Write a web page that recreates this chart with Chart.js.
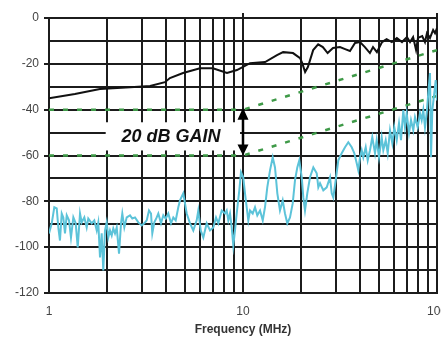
<!DOCTYPE html>
<html>
<head>
<meta charset="utf-8">
<script src="https://cdn.jsdelivr.net/npm/chart.js@4.4.1/dist/chart.umd.min.js"></script>
<style>
  html, body { margin: 0; padding: 0; background: #fff; }
  #wrap { width: 441px; height: 337px; }
</style>
</head>
<body>
<div id="wrap"><canvas id="chart"></canvas></div>
<script>
// limit lines (dB) at 1, 10, 100 MHz
const limitFreq = [1, 10, 100];
const limitUpper = [-40, -40, -14];
const limitLower = [-60, -60, -34];

// output trace (black)
const outFreq = [1, 1.36, 1.83, 2.62, 3.32, 3.96, 4.2, 4.91, 6.0, 7.0, 8.27, 9.31, 10.87, 13.0, 14.97, 16.1,
  18.1, 19.7, 20.2, 20.9, 21.6, 23.0, 24.4, 25.8, 27.3, 29.1, 31.6, 33.6, 35.6, 37.8, 40.1, 42.5, 45.1, 46.8,
  49.0, 52.1, 55.0, 58.5, 62.1, 66.0, 70.0, 72.6, 75.3, 78.0, 79.8, 83.9, 86.7, 88.8, 92.0, 95.5, 97.7, 100];
const outDb = [-35.0, -33.2, -31.0, -30.2, -29.7, -28.0, -26.2, -24.0, -21.9, -21.9, -24.0, -22.7, -19.7, -19.2, -16.2, -14.9,
  -15.3, -17.5, -19.7, -23.6, -21.4, -14.0, -11.5, -12.7, -15.3, -13.1, -12.7, -13.6, -14.4, -10.9, -10.5, -12.7, -15.3, -12.7,
  -14.9, -10.5, -9.2, -10.5, -8.7, -10.5, -8.3, -10.5, -8.3, -14.0, -8.7, -7.9, -10.5, -6.6, -8.7, -5.2, -6.6, -4.4];

// input trace (cyan)
const inFreq = [1.0, 1.033, 1.065, 1.096, 1.117, 1.139, 1.163, 1.185, 1.209, 1.234, 1.268, 1.298, 1.335, 1.373, 1.406,
  1.445, 1.474, 1.521, 1.564, 1.594, 1.66, 1.712, 1.762, 1.795, 1.832, 1.869, 1.905, 1.944, 1.983, 2.021, 2.063, 2.105,
  2.145, 2.189, 2.234, 2.296, 2.351, 2.387, 2.445, 2.515, 2.616, 2.688, 2.776, 2.886, 3.005, 3.099, 3.189, 3.277, 3.356,
  3.408, 3.49, 3.591, 3.66, 3.779, 3.884, 3.996, 4.121, 4.256, 4.373, 4.499, 4.64, 4.734, 4.923, 5.127, 5.332, 5.544,
  5.771, 5.883, 6.053, 6.243, 6.5, 6.76, 7.03, 7.259, 7.46, 7.767, 8.077, 8.241, 8.399, 8.57, 8.745, 8.913, 9.095, 9.28,
  9.57, 9.765, 10.03, 10.24, 10.45, 10.65, 10.87, 11.22, 11.53, 11.85, 12.24, 12.64, 12.98, 13.34, 13.78, 14.23, 14.62,
  15.03, 15.51, 16.02, 16.46, 16.92, 17.47, 18.04, 18.54, 19.05, 19.51, 20.08, 20.46, 20.87, 21.45, 22.15, 23.04, 23.99,
  24.45, 24.95, 25.94, 27.01, 28.09, 28.66, 29.21, 30.05, 30.99, 32.27, 33.56, 34.9, 36.34, 37.48, 38.56, 39.3, 40.1,
  40.92, 41.7, 42.91, 43.94, 45.15, 46.4, 47.91, 48.89, 50.23, 51.87, 52.87, 54.4, 55.71, 57.25, 58.84, 60.25, 61.99,
  63.7, 65.23, 67.04, 68.41, 69.8, 71.73, 73.45, 75.48, 77.02, 79.52, 81.73, 83.39, 84.99, 86.72, 88.49, 90.19, 92.02,
  93.13, 94.59, 96.86, 98.47, 100];
const inDb = [-94.0, -89.6, -82.6, -83.1, -91.4, -97.1, -85.3, -87.0, -94.0, -86.1, -88.3, -95.8, -87.0, -89.6, -100.1,
  -85.3, -89.2, -87.0, -91.4, -87.5, -89.6, -88.3, -92.7, -89.2, -104.5, -94.0, -110.2, -92.7, -89.2, -95.8, -92.7, -94.9,
  -91.8, -94.0, -91.4, -102.8, -89.6, -85.3, -91.4, -87.0, -86.1, -87.5, -87.0, -89.2, -90.5, -89.6, -88.3, -84.0, -85.3,
  -94.0, -89.2, -87.0, -85.3, -89.6, -86.1, -87.5, -85.3, -89.6, -87.0, -88.3, -82.6, -79.6, -76.5, -85.3, -89.6, -92.7,
  -88.3, -84.0, -92.7, -95.8, -89.6, -92.7, -91.4, -87.0, -89.6, -84.0, -85.3, -84.0, -88.3, -85.3, -91.4, -99.3, -92.7, -85.3,
  -75.2, -67.3, -69.5, -76.5, -82.6, -88.3, -84.0, -85.3, -82.6, -86.1, -84.0, -88.3, -82.6, -73.9, -66.5, -60.8, -65.2,
  -76.5, -84.0, -79.6, -85.3, -89.6, -87.0, -80.9, -70.8, -65.2, -62.1, -69.5, -78.3, -84.0, -76.5, -69.5, -65.2, -67.8,
  -73.9, -72.1, -75.2, -73.9, -69.5, -76.5, -78.3, -70.8, -62.1, -59.0, -56.4, -54.2, -56.4, -59.0, -63.4, -66.5, -60.8,
  -57.7, -60.8, -56.4, -62.1, -57.7, -52.0, -59.0, -53.3, -60.8, -52.0, -57.7, -53.3, -59.0, -49.0, -54.7, -47.7, -53.3,
  -45.9, -53.3, -40.2, -47.7, -41.5, -50.3, -44.6, -49.0, -43.3, -47.7, -41.5, -44.6, -40.2, -47.7, -41.5, -32.8, -24.0,
  -60.8, -40.2, -32.8, -27.1, -36.0];

const xTickLabels = [1, 10, 100];
const xGridValues = [1, 2, 3, 4, 5, 6, 7, 8, 9, 10, 20, 30, 40, 50, 60, 70, 80, 90, 100];

const toPoints = (xs, ys) => xs.map((x, i) => ({ x: x, y: ys[i] }));

const gridColor = '#1c1c1c';
const labelFont = { family: 'Liberation Sans, Arial, sans-serif', size: 12 };

// "20 dB GAIN" box and double arrow, placed in data units
const gainNote = {
  id: 'gainNote',
  afterDatasetsDraw(chart) {
    const ctx = chart.ctx;
    const xs = chart.scales.x;
    const ys = chart.scales.y;
    const area = chart.chartArea;

    ctx.save();
    // grid stubs above the plot at 10 and 100 MHz
    ctx.strokeStyle = gridColor;
    ctx.lineWidth = 2;
    [10, 100].forEach(v => {
      const px = xs.getPixelForValue(v);
      ctx.beginPath();
      ctx.moveTo(px, area.top - 5);
      ctx.lineTo(px, area.top);
      ctx.stroke();
    });

    const x1 = xs.getPixelForValue(1.96);
    const x2 = xs.getPixelForValue(9.65);
    const y1 = ys.getPixelForValue(-45.5);
    const y2 = ys.getPixelForValue(-57.8);
    ctx.fillStyle = '#fff';
    ctx.fillRect(x1, y1, x2 - x1, y2 - y1);

    ctx.fillStyle = '#111';
    ctx.font = 'italic bold 18px "Liberation Sans", Arial, sans-serif';
    ctx.textAlign = 'center';
    ctx.textBaseline = 'middle';
    ctx.fillText('20 dB GAIN', xs.getPixelForValue(4.26), ys.getPixelForValue(-52));

    // arrow between the two limit lines
    const ax = xs.getPixelForValue(10);
    const top = ys.getPixelForValue(-40);
    const bot = ys.getPixelForValue(-60);
    ctx.strokeStyle = '#000';
    ctx.lineWidth = 2.5;
    ctx.beginPath();
    ctx.moveTo(ax, top + 8);
    ctx.lineTo(ax, bot - 8);
    ctx.stroke();
    ctx.fillStyle = '#000';
    ctx.beginPath();
    ctx.moveTo(ax, top - 2);
    ctx.lineTo(ax - 5.5, top + 10);
    ctx.lineTo(ax + 5.5, top + 10);
    ctx.closePath();
    ctx.fill();
    ctx.beginPath();
    ctx.moveTo(ax, bot);
    ctx.lineTo(ax - 5.5, bot - 11);
    ctx.lineTo(ax + 5.5, bot - 11);
    ctx.closePath();
    ctx.fill();
    ctx.restore();
  }
};

const config = {
  type: 'line',
  data: {
    datasets: [
      {
        label: 'Output',
        data: toPoints(outFreq, outDb),
        borderColor: '#111',
        borderWidth: 2,
        pointRadius: 0,
        tension: 0
      },
      {
        label: 'Input',
        data: toPoints(inFreq, inDb),
        borderColor: '#5cc3d9',
        borderWidth: 2,
        pointRadius: 0,
        tension: 0
      },
      {
        label: 'Limit +20',
        data: toPoints(limitFreq, limitUpper),
        borderColor: '#3f9a48',
        borderWidth: 2.5,
        borderDash: [5, 9],
        pointRadius: 0
      },
      {
        label: 'Limit',
        data: toPoints(limitFreq, limitLower),
        borderColor: '#3f9a48',
        borderWidth: 2.5,
        borderDash: [5, 9],
        pointRadius: 0
      }
    ]
  },
  options: {
    responsive: true,
    maintainAspectRatio: false,
    animation: false,
    layout: { padding: { top: 18, right: 4, left: 0, bottom: 0 } },
    plugins: {
      legend: { display: false },
      tooltip: { enabled: false }
    },
    scales: {
      x: {
        type: 'logarithmic',
        min: 1,
        max: 100,
        afterBuildTicks: scale => {
          scale.ticks = xGridValues.map(v => ({ value: v }));
        },
        afterFit: scale => {
          scale.height = 44;
          scale.paddingLeft = 0;
          scale.paddingRight = 0;
        },
        ticks: {
          autoSkip: false,
          maxRotation: 0,
          padding: 11,
          color: '#444',
          font: labelFont,
          callback: v => xTickLabels.includes(v) ? String(v) : ''
        },
        grid: { color: gridColor, lineWidth: 2, drawTicks: false },
        border: { color: gridColor, width: 2 },
        title: {
          display: true,
          text: 'Frequency (MHz)',
          color: '#333',
          font: { family: 'Liberation Sans, Arial, sans-serif', size: 12, weight: 'bold' },
          padding: { top: 3, bottom: 0 }
        }
      },
      y: {
        min: -120,
        max: 0,
        afterFit: scale => { scale.width = 49; },
        ticks: {
          stepSize: 10,
          padding: 5,
          color: '#444',
          font: labelFont,
          callback: v => v % 20 === 0 ? String(v) : ''
        },
        grid: {
          color: gridColor,
          lineWidth: 2,
          tickLength: 5,
          tickColor: c => (c.tick && c.tick.value % 20 === 0) ? gridColor : 'rgba(0,0,0,0)'
        },
        border: { color: gridColor, width: 2 }
      }
    }
  },
  plugins: [gainNote]
};

new Chart(document.getElementById('chart'), config);
</script>
</body>
</html>
